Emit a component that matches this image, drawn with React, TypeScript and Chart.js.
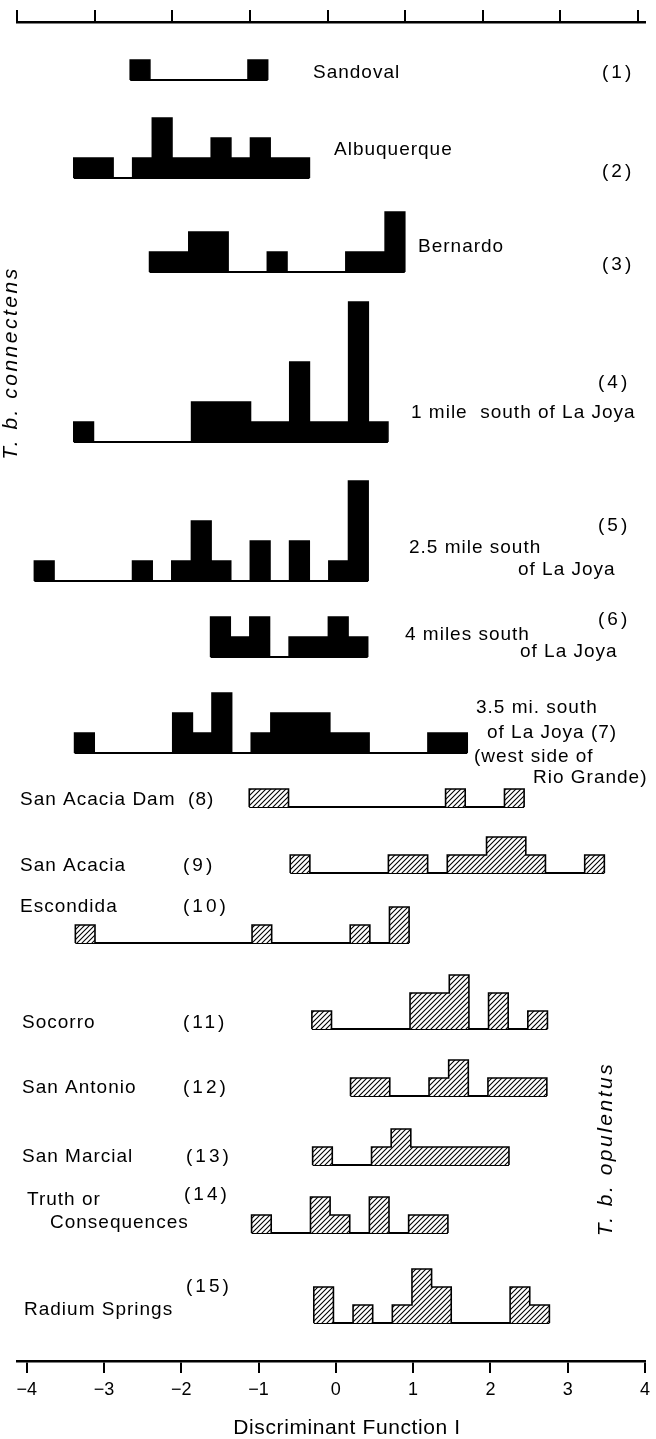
import React, { useEffect, useRef } from 'react';
import { Chart, registerables } from 'chart.js';
Chart.register(...registerables);

// ---------------- data ----------------
const X_TICKS = [-4, -3, -2, -1, 0, 1, 2, 3, 4];
const BIN_WIDTH = 0.254;

const POPULATIONS = [
  'Sandoval', 'Albuquerque', 'Bernardo', '1 mile south of La Joya', '2.5 mile south of La Joya',
  '4 miles south of La Joya', '3.5 mi. south of La Joya (west side of Rio Grande)',
  'San Acacia Dam', 'San Acacia', 'Escondida', 'Socorro', 'San Antonio', 'San Marcial',
  'Truth or Consequences', 'Radium Springs',
];
const SUBSPECIES = [
  'connectens', 'connectens', 'connectens', 'connectens', 'connectens', 'connectens', 'connectens',
  'opulentus', 'opulentus', 'opulentus', 'opulentus', 'opulentus', 'opulentus', 'opulentus', 'opulentus',
];
// left edge of the first bin (Discriminant Function I)
const BIN_STARTS = [-2.66, -3.39, -2.41, -3.39, -3.90, -1.62, -3.38, -1.12, -0.59, -3.37, -0.31, 0.19, -0.30, -1.09, -0.285];

const COUNTS_SANDOVAL = [1, 0, 0, 0, 0, 0, 1];
const COUNTS_ALBUQUERQUE = [1, 1, 0, 1, 3, 1, 1, 2, 1, 2, 1, 1];
const COUNTS_BERNARDO = [1, 1, 2, 2, 0, 0, 1, 0, 0, 0, 1, 1, 3];
const COUNTS_LA_JOYA_1 = [1, 0, 0, 0, 0, 0, 2, 2, 2, 1, 1, 4, 1, 1, 7, 1];
const COUNTS_LA_JOYA_2_5 = [1, 0, 0, 0, 0, 1, 0, 1, 3, 1, 0, 2, 0, 2, 0, 1, 5];
const COUNTS_LA_JOYA_4 = [2, 1, 2, 0, 1, 1, 2, 1];
const COUNTS_LA_JOYA_3_5 = [1, 0, 0, 0, 0, 2, 1, 3, 0, 1, 2, 2, 2, 1, 1, 0, 0, 0, 1, 1];
const COUNTS_SAN_ACACIA_DAM = [1, 1, 0, 0, 0, 0, 0, 0, 0, 0, 1, 0, 0, 1];
const COUNTS_SAN_ACACIA = [1, 0, 0, 0, 0, 1, 1, 0, 1, 1, 2, 2, 1, 0, 0, 1];
const COUNTS_ESCONDIDA = [1, 0, 0, 0, 0, 0, 0, 0, 0, 1, 0, 0, 0, 0, 1, 0, 2];
const COUNTS_SOCORRO = [1, 0, 0, 0, 0, 2, 2, 3, 0, 2, 0, 1];
const COUNTS_SAN_ANTONIO = [1, 1, 0, 0, 1, 2, 0, 1, 1, 1];
const COUNTS_SAN_MARCIAL = [1, 0, 0, 1, 2, 1, 1, 1, 1, 1];
const COUNTS_TRUTH_OR_CONSEQUENCES = [1, 0, 0, 2, 1, 0, 2, 0, 1, 1];
const COUNTS_RADIUM_SPRINGS = [2, 0, 1, 0, 1, 3, 2, 0, 0, 0, 2, 1];

const ALL_COUNTS = [
  COUNTS_SANDOVAL, COUNTS_ALBUQUERQUE, COUNTS_BERNARDO, COUNTS_LA_JOYA_1, COUNTS_LA_JOYA_2_5,
  COUNTS_LA_JOYA_4, COUNTS_LA_JOYA_3_5, COUNTS_SAN_ACACIA_DAM, COUNTS_SAN_ACACIA, COUNTS_ESCONDIDA,
  COUNTS_SOCORRO, COUNTS_SAN_ANTONIO, COUNTS_SAN_MARCIAL, COUNTS_TRUTH_OR_CONSEQUENCES, COUNTS_RADIUM_SPRINGS,
];

// ---------------- layout ----------------
const W = 656;
const H = 1439;
const PLOT_TOP = 22;
const AXIS_Y = 1361;
const ROW_BASE_Y = [80, 178, 272, 442, 581, 657, 753, 807, 873, 943, 1029, 1096, 1165, 1233, 1323];
const UNIT_SOLID = 20;
const UNIT_HATCH = 18;

const FONT = '"Liberation Sans", Arial, sans-serif';

const TEXT_LAYOUT = [
  { t: 'Sandoval', x: 313, y: 73 },
  { t: '(1)', x: 602, y: 73, n: true },
  { t: 'Albuquerque', x: 334, y: 150 },
  { t: '(2)', x: 602, y: 172, n: true },
  { t: 'Bernardo', x: 418, y: 247 },
  { t: '(3)', x: 602, y: 265, n: true },
  { t: '(4)', x: 598, y: 383, n: true },
  { t: '1 mile  south of La Joya', x: 411, y: 413 },
  { t: '(5)', x: 598, y: 526, n: true },
  { t: '2.5 mile south', x: 409, y: 548 },
  { t: 'of La Joya', x: 518, y: 570 },
  { t: '(6)', x: 598, y: 620, n: true },
  { t: '4 miles south', x: 405, y: 635 },
  { t: 'of La Joya', x: 520, y: 652 },
  { t: '3.5 mi. south', x: 476, y: 708 },
  { t: 'of La Joya (7)', x: 487, y: 733 },
  { t: '(west side of', x: 474, y: 757 },
  { t: 'Rio Grande)', x: 533, y: 778 },
  { t: 'San Acacia Dam  (8)', x: 20, y: 800 },
  { t: 'San Acacia', x: 20, y: 866 },
  { t: '(9)', x: 183, y: 866, n: true },
  { t: 'Escondida', x: 20, y: 907 },
  { t: '(10)', x: 183, y: 907, n: true },
  { t: 'Socorro', x: 22, y: 1023 },
  { t: '(11)', x: 183, y: 1023, n: true },
  { t: 'San Antonio', x: 22, y: 1088 },
  { t: '(12)', x: 183, y: 1088, n: true },
  { t: 'San Marcial', x: 22, y: 1157 },
  { t: '(13)', x: 186, y: 1157, n: true },
  { t: 'Truth or', x: 27, y: 1200 },
  { t: '(14)', x: 184, y: 1195, n: true },
  { t: 'Consequences', x: 50, y: 1223 },
  { t: '(15)', x: 186, y: 1287, n: true },
  { t: 'Radium Springs', x: 24, y: 1310 },
];

function outline(start: number, counts: number[], base: number, unit: number) {
  const pts: { x: number; y: number }[] = [{ x: start, y: base }];
  counts.forEach((c, i) => {
    const top = base - c * unit;
    pts.push({ x: start + i * BIN_WIDTH, y: top });
    pts.push({ x: start + (i + 1) * BIN_WIDTH, y: top });
  });
  pts.push({ x: start + counts.length * BIN_WIDTH, y: base });
  return pts;
}

const textPlugin = {
  id: 'figureText',
  afterDraw(chart: any) {
    const ctx = chart.ctx as CanvasRenderingContext2D;
    ctx.save();
    ctx.fillStyle = '#000';
    ctx.textBaseline = 'middle';
    ctx.textAlign = 'left';
    for (const l of TEXT_LAYOUT) {
      ctx.font = `19px ${FONT}`;
      (ctx as any).letterSpacing = (l as any).n ? '3px' : '1px';
      ctx.fillText(l.t, l.x, l.y);
    }
    // axis title
    (ctx as any).letterSpacing = '0.6px';
    ctx.font = `21px ${FONT}`;
    ctx.textAlign = 'center';
    ctx.fillText('Discriminant Function I', 347, 1428);
    // subspecies labels (rotated)
    ctx.font = `italic 21px ${FONT}`;
    (ctx as any).letterSpacing = '2.5px';
    const side = [
      { t: 'T. b. connectens', x: 11, y: 363 },
      { t: 'T. b. opulentus', x: 606, y: 1149 },
    ];
    for (const s of side) {
      ctx.save();
      ctx.translate(s.x, s.y);
      ctx.rotate(-Math.PI / 2);
      ctx.textAlign = 'center';
      ctx.fillText(s.t, 0, 0);
      ctx.restore();
    }
    ctx.restore();
  },
};

export default function App() {
  const ref = useRef<HTMLCanvasElement>(null);
  useEffect(() => {
    const canvas = ref.current!;
    const mainCtx = canvas.getContext('2d')!;
    const tile = document.createElement('canvas');
    tile.width = 5;
    tile.height = 5;
    const g = tile.getContext('2d')!;
    g.fillStyle = '#fff';
    g.fillRect(0, 0, 5, 5);
    g.strokeStyle = '#000';
    g.lineWidth = 1.1;
    g.beginPath();
    g.moveTo(0, 5); g.lineTo(5, 0);
    g.moveTo(-1, 1); g.lineTo(1, -1);
    g.moveTo(4, 6); g.lineTo(6, 4);
    g.stroke();
    const hatch = mainCtx.createPattern(tile, 'repeat');

    const datasets: any[] = [];
    ALL_COUNTS.forEach((counts, i) => {
      const base = ROW_BASE_Y[i];
      const hatched = SUBSPECIES[i] === 'opulentus';
      const unit = hatched ? UNIT_HATCH : UNIT_SOLID;
      const start = BIN_STARTS[i];
      const end = start + counts.length * BIN_WIDTH;
      datasets.push({
        label: POPULATIONS[i],
        data: outline(start, counts, base, unit),
        borderColor: '#000',
        borderWidth: 1.6,
        borderJoinStyle: 'miter',
        backgroundColor: hatched ? hatch : '#000',
        fill: { value: base },
        pointRadius: 0,
        tension: 0,
      });
      datasets.push({
        label: POPULATIONS[i] + ' base',
        data: [{ x: start, y: base }, { x: end, y: base }],
        borderColor: '#000',
        borderWidth: 2,
        fill: false,
        pointRadius: 0,
      });
    });

    const chart = new Chart(canvas, {
      type: 'line',
      data: { datasets },
      options: {
        animation: false,
        responsive: false,
        devicePixelRatio: 1,
        layout: { padding: { left: 17, right: 11, top: 0, bottom: 0 } },
        plugins: { legend: { display: false }, tooltip: { enabled: false } },
        scales: {
          x: {
            type: 'linear',
            position: 'bottom',
            min: -4.125,
            max: 4,
            afterBuildTicks: (s: any) => { s.ticks = X_TICKS.map((v) => ({ value: v })); },
            afterFit: (s: any) => { s.height = H - AXIS_Y; },
            ticks: {
              color: '#000',
              padding: 6,
              maxRotation: 0,
              autoSkip: false,
              font: { family: FONT, size: 18 },
              callback: (v: any) => (Number(v) < 0 ? '\u2212' + Math.abs(Number(v)) : String(v)),
            },
            grid: { drawOnChartArea: false, drawTicks: true, tickLength: 12, color: '#000', lineWidth: 2 },
            border: { display: true, color: '#000', width: 2.5 },
          },
          x2: {
            type: 'linear',
            position: 'top',
            min: -4,
            max: 4.09,
            afterBuildTicks: (s: any) => { s.ticks = X_TICKS.map((v) => ({ value: v })); },
            afterFit: (s: any) => { s.height = PLOT_TOP; },
            ticks: { display: false },
            grid: { drawOnChartArea: false, drawTicks: true, tickLength: 12, color: '#000', lineWidth: 2 },
            border: { display: true, color: '#000', width: 2.5 },
          },
          y: { type: 'linear', min: PLOT_TOP, max: AXIS_Y, reverse: true, display: false },
        },
      } as any,
      plugins: [textPlugin],
    });
    return () => chart.destroy();
  }, []);
  return (
    <div style={{ position: 'absolute', left: 0, top: 0, width: W, height: H, background: '#fff' }}>
      <canvas ref={ref} width={W} height={H} style={{ display: 'block' }} />
    </div>
  );
}
